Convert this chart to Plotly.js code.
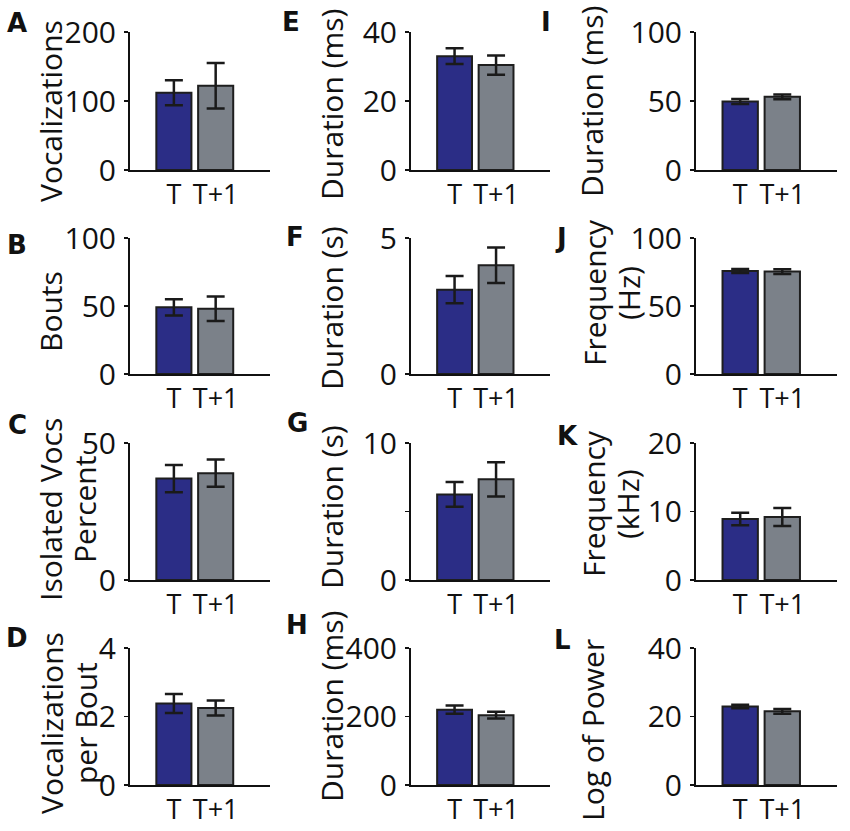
<!DOCTYPE html>
<html>
<head>
<meta charset="utf-8">
<script src="https://cdn.plot.ly/plotly-3.0.1.min.js"></script>
<style>
  html, body { margin: 0; padding: 0; background: #fff; }
  #chart { width: 850px; height: 831px; }
</style>
</head>
<body>
<div id="chart"></div>
<script>
// panels A-D (column 1), E-H (column 2), I-L (column 3)
var panels = ['A', 'B', 'C', 'D', 'E', 'F', 'G', 'H', 'I', 'J', 'K', 'L'];
var groups = ['T', 'T+1'];
var meanT  = [112, 49, 37, 2.38, 33.0, 3.1, 6.25, 220, 49.6, 75.7, 8.9, 22.9];
var meanT1 = [122, 48, 39, 2.25, 30.4, 4.0, 7.35, 204, 53.0, 75.3, 9.2, 21.5];
var errT   = [18, 6, 5, 0.28, 2.3, 0.5, 0.9, 12, 1.8, 1.5, 0.9, 0.5];
var errT1  = [33, 9, 5, 0.22, 2.8, 0.65, 1.25, 10, 1.8, 1.8, 1.3, 0.7];
var yMax   = [200, 100, 50, 4, 40, 5, 10, 400, 100, 100, 20, 40];
var yTickVals = [[0, 100, 200], [0, 50, 100], [0, 50], [0, 2, 4], [0, 20, 40], [0, 5],
                 [0, 5, 10], [0, 200, 400], [0, 50, 100], [0, 50, 100], [0, 10, 20], [0, 20, 40]];
var yTickText = [['0', '100', '200'], ['0', '50', '100'], ['0', '50'], ['0', '2', '4'], ['0', '20', '40'], ['0', '5'],
                 ['0', '', '10'], ['0', '200', '400'], ['0', '50', '100'], ['0', '50', '100'], ['0', '10', '20'], ['0', '20', '40']];
var yTitles = ['Vocalizations', 'Bouts', 'Isolated Vocs<br>Percent', 'Vocalizations<br>per Bout',
               'Duration (ms)', 'Duration (s)', 'Duration (s)', 'Duration (ms)',
               'Duration (ms)', 'Frequency<br>(Hz)', 'Frequency<br>(kHz)', 'Log of Power'];

var W = 850, H = 831;
// plot boxes in pixels: column left/right, row top/bottom
var colX = [[130, 270], [411, 550], [696, 837]];
var rowY = [[32, 170], [238, 374], [443, 580], [648, 785]];
// y title position in pixels (x of first line, y centre); second lines sit 34px right
var titlePos = [[50, 111], [50, 312], [51, 510], [51, 723],
                [331, 105], [331, 308], [331, 507], [331, 707],
                [592, 102], [594, 293], [594, 504], [592, 730]];
var letterPos = [[17, 23], [17, 245], [17, 425], [17, 638],
                 [291, 22], [295, 237], [297, 423], [297, 625],
                 [546, 22], [561, 238], [567, 436], [562, 640]];

var FONT = 'Open Sans, sans-serif';
var data = [];
var layout = {
  width: W, height: H,
  margin: {l: 0, r: 0, t: 0, b: 0},
  paper_bgcolor: '#fff', plot_bgcolor: '#fff',
  showlegend: false,
  font: {family: FONT, color: '#111'},
  annotations: []
};

for (var i = 0; i < panels.length; i++) {
  var col = Math.floor(i / 4), row = i % 4;
  var n = i === 0 ? '' : String(i + 1);
  data.push({
    type: 'bar',
    x: groups,
    y: [meanT[i], meanT1[i]],
    xaxis: 'x' + n, yaxis: 'y' + n,
    width: 0.84,
    marker: {color: ['#2b2d86', '#7b8189'], line: {color: '#1e1e1e', width: 2}},
    error_y: {type: 'data', array: [errT[i], errT1[i]], color: '#1a1a1a', thickness: 2.5, width: 9},
    hoverinfo: 'y'
  });
  layout['xaxis' + n] = {
    domain: [colX[col][0] / W, colX[col][1] / W],
    anchor: 'y' + n,
    type: 'category',
    range: [-1.05, 2.3],
    showline: true, linecolor: '#111', linewidth: 2,
    ticks: '', showgrid: false, zeroline: false,
    tickfont: {size: 27, family: FONT, color: '#111'},
    fixedrange: true
  };
  layout['yaxis' + n] = {
    domain: [1 - rowY[row][1] / H, 1 - rowY[row][0] / H],
    anchor: 'x' + n,
    range: [0, yMax[i]],
    tickmode: 'array',
    tickvals: yTickVals[i], ticktext: yTickText[i],
    showline: true, linecolor: '#111', linewidth: 2,
    ticks: 'outside', ticklen: 4, tickwidth: 1.5, tickcolor: '#111',
    ticklabelstandoff: 2,
    showgrid: false, zeroline: false,
    tickfont: {size: 30, family: FONT, color: '#111'},
    fixedrange: true
  };
  var lines = yTitles[i].split('<br>');
  for (var k = 0; k < lines.length; k++) {
    layout.annotations.push({
      xref: 'paper', yref: 'paper',
      x: (titlePos[i][0] + 34 * k) / W, y: 1 - titlePos[i][1] / H,
      xanchor: 'center', yanchor: 'middle',
      text: lines[k], textangle: -90, showarrow: false,
      font: {size: 30, family: FONT, color: '#111'}
    });
  }
  layout.annotations.push({
    xref: 'paper', yref: 'paper',
    x: letterPos[i][0] / W, y: 1 - letterPos[i][1] / H,
    xanchor: 'center', yanchor: 'middle',
    text: '<b>' + panels[i] + '</b>', showarrow: false,
    font: {size: 26, family: 'DejaVu Sans, sans-serif', color: '#111'}
  });
}

Plotly.newPlot('chart', data, layout, {displayModeBar: false, staticPlot: true});
</script>
</body>
</html>
